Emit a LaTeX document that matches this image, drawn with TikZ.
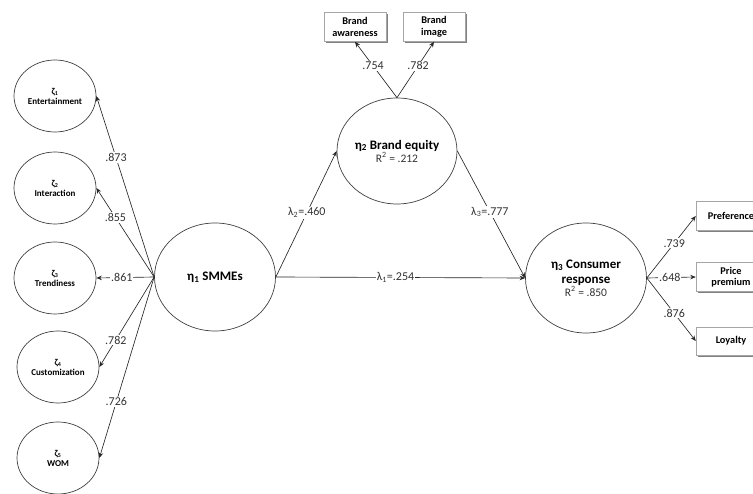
\documentclass[tikz,border=0pt]{standalone}
\usepackage{fontspec}
\setmainfont{Carlito}
\usetikzlibrary{shapes.geometric,arrows.meta,shadows}
\newcommand{\rsqtext}{\mdseries\fontsize{11.5}{13}\selectfont\color{black!80}}

\begin{document}
\begin{tikzpicture}[x=1pt,y=-1pt,
  latent/.style={ellipse,draw=black!75,line width=0.7pt,inner sep=0pt,align=center,
    font=\bfseries\fontsize{9}{10}\selectfont},
  small/.style={latent,minimum width=82pt,minimum height=72pt},
  big/.style={latent,minimum width=121pt,minimum height=108pt,
    font=\bfseries\fontsize{13}{15}\selectfont},
  indicator/.style={draw=black!35,fill=white,line width=0.5pt,align=center,inner sep=0pt,
    minimum height=29pt,font=\bfseries\fontsize{10.3}{11.5}\selectfont,
    drop shadow={shadow xshift=1.5pt,shadow yshift=-1.8pt,fill=black!50,opacity=1}},
  arr/.style={draw=black!85,line width=0.65pt,-{Stealth[length=5.5pt,width=4.5pt]}},
  lab/.style={fill=white,inner sep=1pt,text=black!80,font=\fontsize{12}{13}\selectfont}
]
\useasboundingbox (0,0) rectangle (753,494);

% first-order dimensions of SMMEs
\node[small] (ent)  at (55,96)  {ζ\textsubscript{1}\\Entertainment};
\node[small] (int)  at (55,188) {ζ\textsubscript{2}\\Interaction};
\node[small] (tre)  at (55,278) {ζ\textsubscript{3}\\Trendiness};
\node[small] (cus)  at (58,367) {ζ\textsubscript{4}\\Customization};
\node[small] (wom)  at (58,458) {ζ\textsubscript{5}\\WOM};

% latent constructs
\node[big] (smme) at (215,277) {η\textsubscript{1} SMMEs};
\node[big,minimum width=120pt,minimum height=106pt] (be) at (397,151)
  {η\textsubscript{2} Brand equity\\[-2pt]{\rsqtext R\textsuperscript{2} = .212}};
\node[big,minimum height=110pt] (cr) at (586,278)
  {η\textsubscript{3} Consumer\\response\\[-2pt]{\rsqtext R\textsuperscript{2} = .850}};

% indicators
\node[indicator,minimum width=62pt] (aw)  at (355,27) {Brand\\awareness};
\node[indicator,minimum width=62pt] (im)  at (434,27) {Brand\\image};
\node[indicator,minimum width=70pt] (pre) at (731,216) {Preference};
\node[indicator,minimum width=70pt] (pp)  at (731,277) {Price\\premium};
\node[indicator,minimum width=70pt,minimum height=28pt] (loy) at (731,341) {Loyalty};

% loadings of the SMMEs dimensions
\draw[arr] (smme.west) -- node[lab,pos=0.66] {.873} (ent.east);
\draw[arr] (smme.west) -- node[lab,pos=0.67] {.855} (int.east);
\draw[arr] (smme.west) -- node[lab,pos=0.56] {.861} (tre.east);
\draw[arr] (smme.west) -- node[lab,pos=0.70] {.782} (cus.east);
\draw[arr] (smme.west) -- node[lab,pos=0.69] {.726} (wom.east);

% structural paths
\draw[arr] (smme.east) -- node[lab,pos=0.51] {λ\textsubscript{2}=.460} (be.west);
\draw[arr] (be.east) -- node[lab,pos=0.48] {λ\textsubscript{3}=.777} (cr.west);
\draw[arr] (smme.east) -- node[lab,pos=0.48] {λ\textsubscript{1}=.254} (cr.west);

% brand equity indicators
\draw[arr] (be.north) -- node[lab,pos=0.57] {.754} (aw.south);
\draw[arr] (be.north) -- node[lab,pos=0.57] {.782} (im.south);

% consumer response indicators
\draw[arr] (cr.east) -- node[lab,pos=0.56] {.739} (pre.west);
\draw[arr] (cr.east) -- node[lab,pos=0.47] {.648} (pp.west);
\draw[arr] (cr.east) -- node[lab,pos=0.56] {.876} (loy.west);
\end{tikzpicture}
\end{document}
